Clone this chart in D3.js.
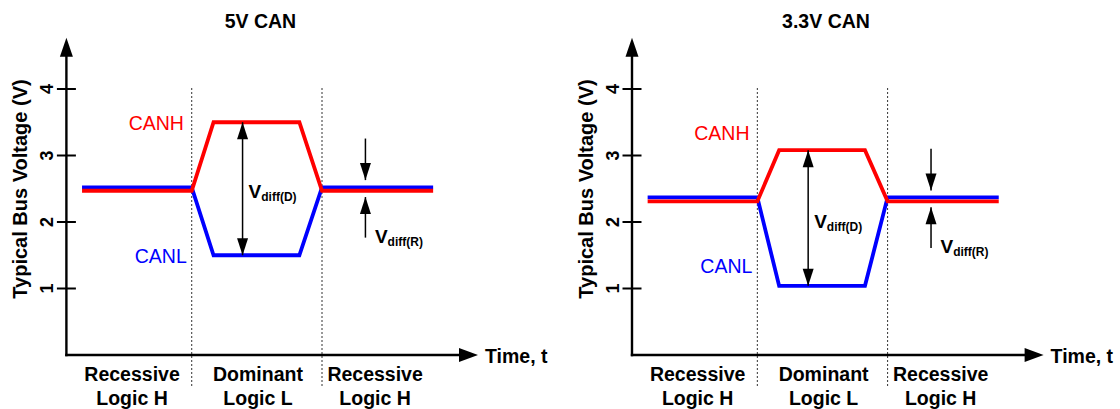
<!DOCTYPE html>
<html>
<head>
<meta charset="utf-8">
<script src="https://cdn.jsdelivr.net/npm/d3@7/dist/d3.min.js"></script>
<style>
 body { margin: 0; background: #fff; }
 svg { display: block; font-family: Arial, "Liberation Sans", sans-serif; }
</style>
</head>
<body>
<svg id="chart" width="1120" height="409"></svg>
<script>
// values (time in arbitrary units, voltage in V)
var titles = ["5V CAN", "3.3V CAN"];
var timeKnots = [0.76, 6.09, 7.15, 11.32, 12.42, 17.82];
var canhV = [[2.47, 2.47, 3.5, 3.5, 2.47, 2.47],
             [2.31, 2.31, 3.08, 3.08, 2.31, 2.31]];
var canlV = [[2.52, 2.52, 1.5, 1.5, 2.52, 2.52],
             [2.37, 2.37, 1.04, 1.04, 2.37, 2.37]];
var yTicks = [1, 2, 3, 4];
var phaseBounds = [6.09, 12.42];
var phaseCenters = [3.19, 9.31, 15.0];
var phaseLabels = [["Recessive", "Logic H"], ["Dominant", "Logic L"], ["Recessive", "Logic H"]];
var canhLabelV = [3.39, 3.23];
var canlLabelV = [1.39, 1.23];
var vdiffDTime = 8.56;
var vdiffRTime = 14.53;

var svg = d3.select("#chart");
var x = d3.scaleLinear().domain([0, 20]).range([0, 411.6]);
var y = d3.scaleLinear().domain([0, 4]).range([355, 89]);
var line = d3.line().x(function(d){ return x(d[0]); }).y(function(d){ return y(d[1]); });

svg.append("defs").html("");

function arrowHead(g, tipX, tipY, dir, len, wid){
  // dir: "up","down","right"
  var pts;
  if(dir == "up") pts = [[tipX, tipY], [tipX - wid/2, tipY + len], [tipX + wid/2, tipY + len]];
  else if(dir == "down") pts = [[tipX, tipY], [tipX - wid/2, tipY - len], [tipX + wid/2, tipY - len]];
  else pts = [[tipX, tipY], [tipX - len, tipY - wid/2], [tipX - len, tipY + wid/2]];
  g.append("polygon").attr("points", pts.map(function(p){ return p.join(","); }).join(" ")).attr("fill", "#000");
}

function vArrow(g, xx, y1, y2, headsTop, headsBottom){
  g.append("line").attr("x1", xx).attr("x2", xx).attr("y1", y1).attr("y2", y2)
   .attr("stroke", "#000").attr("stroke-width", 1.5);
  if(headsTop) arrowHead(g, xx, y1, "up", 17, 11);
  if(headsBottom) arrowHead(g, xx, y2, "down", 17, 11);
}

function vdiffLabel(g, xx, yy, sub){
  var t = g.append("text").attr("x", xx).attr("y", yy)
   .attr("font-weight", "bold").attr("font-size", "19px").attr("fill", "#000");
  t.append("tspan").text("V");
  t.append("tspan").attr("dy", 3).attr("font-size", "12px").text(sub);
}

titles.forEach(function(title, i){
  var g = svg.append("g").attr("transform", "translate(" + (66.4 + i*565.6) + ",0)");

  // title
  g.append("text").attr("x", 194).attr("y", 28).attr("text-anchor", "middle")
   .attr("font-weight", "bold").attr("font-size", "19.5px").text(title);

  // phase boundaries (dotted)
  g.selectAll(".bound").data(phaseBounds).enter().append("line")
   .attr("x1", function(d){ return x(d); }).attr("x2", function(d){ return x(d); })
   .attr("y1", y(4) - 1).attr("y2", 387)
   .attr("stroke", "#333").attr("stroke-width", 1).attr("stroke-dasharray", "2,2");

  // axes
  g.append("line").attr("x1", 0).attr("x2", 0).attr("y1", y(4.77) + 15).attr("y2", y(0) + 1.2)
   .attr("stroke", "#000").attr("stroke-width", 2.4);
  arrowHead(g, 0, y(4.77), "up", 19, 13);
  g.append("line").attr("x1", -1.2).attr("x2", x(20) - 15).attr("y1", y(0)).attr("y2", y(0))
   .attr("stroke", "#000").attr("stroke-width", 2.4);
  arrowHead(g, x(20), y(0), "right", 19, 14);

  g.selectAll(".tick").data(yTicks).enter().append("line")
   .attr("x1", -9.5).attr("x2", 9.5)
   .attr("y1", function(d){ return y(d); }).attr("y2", function(d){ return y(d); })
   .attr("stroke", "#000").attr("stroke-width", 2);
  g.selectAll(".tlab").data(yTicks).enter().append("text")
   .attr("transform", function(d){ return "translate(-13," + y(d) + ") rotate(-90)"; })
   .attr("text-anchor", "middle").attr("font-weight", "bold").attr("font-size", "18px")
   .text(function(d){ return d; });

  g.append("text").attr("transform", "translate(-39.4,189) rotate(-90)")
   .attr("text-anchor", "middle").attr("font-weight", "bold").attr("font-size", "20px")
   .text("Typical Bus Voltage (V)");

  g.append("text").attr("x", x(20) + 7).attr("y", 363)
   .attr("font-weight", "bold").attr("font-size", "19.5px").text("Time, t");

  // phase labels
  phaseLabels.forEach(function(lab, j){
    var t = g.append("text").attr("text-anchor", "middle")
     .attr("font-weight", "bold").attr("font-size", "19.5px");
    t.append("tspan").attr("x", x(phaseCenters[j])).attr("y", 381).text(lab[0]);
    t.append("tspan").attr("x", x(phaseCenters[j])).attr("y", 405).text(lab[1]);
  });

  // signals
  var lo = timeKnots.map(function(t, k){ return [t, canlV[i][k]]; });
  var hi = timeKnots.map(function(t, k){ return [t, canhV[i][k]]; });
  g.append("path").attr("d", line(lo)).attr("fill", "none")
   .attr("stroke", "#0000ff").attr("stroke-width", 3.8).attr("stroke-linejoin", "miter");
  g.append("path").attr("d", line(hi)).attr("fill", "none")
   .attr("stroke", "#ff0000").attr("stroke-width", 3.8).attr("stroke-linejoin", "miter");

  g.append("text").attr("x", x(5.71)).attr("y", y(canhLabelV[i])).attr("text-anchor", "end")
   .attr("font-size", "19.5px").attr("fill", "#ff0000").text("CANH");
  g.append("text").attr("x", x(5.85)).attr("y", y(canlLabelV[i])).attr("text-anchor", "end")
   .attr("font-size", "19.5px").attr("fill", "#0000ff").text("CANL");

  // Vdiff(D)
  var dHi = canhV[i][2], dLo = canlV[i][2];
  vArrow(g, x(vdiffDTime), y(dHi), y(dLo), true, true);
  vdiffLabel(g, x(vdiffDTime) + 6, (y(dHi) + y(dLo)) / 2 + 9.5, "diff(D)");

  // Vdiff(R)
  var rec = (canhV[i][0] + canlV[i][0]) / 2;
  vArrow(g, x(vdiffRTime), y(rec + 0.76), y(rec + 0.135), false, true);
  vArrow(g, x(vdiffRTime), y(rec - 0.12), y(rec - 0.73), true, false);
  vdiffLabel(g, x(vdiffRTime) + 9.5, y(rec) + 53.5, "diff(R)");
});
</script>
</body>
</html>
